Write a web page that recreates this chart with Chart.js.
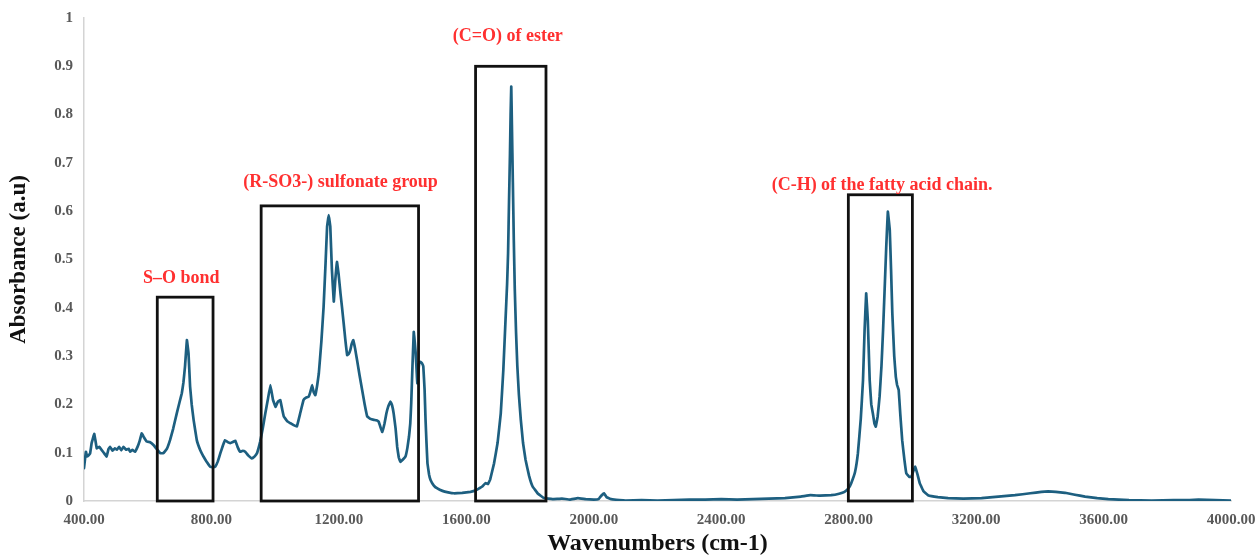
<!DOCTYPE html>
<html>
<head>
<meta charset="utf-8">
<title>FTIR spectrum</title>
<script src="https://cdn.jsdelivr.net/npm/chart.js@4.4.1/dist/chart.umd.min.js"></script>
<style>
  html, body { margin: 0; padding: 0; background: #fff; }
  #wrap { width: 1258px; height: 556px; position: relative; }
</style>
</head>
<body>
<div id="wrap"><canvas id="ftir"></canvas></div>
<script>
// spectrum
const wavenumbers = [
  400, 406, 410, 419, 424, 432, 436, 440, 448, 455, 462, 471, 477, 482, 490, 497, 503, 510, 517, 524,
  532, 540, 545, 552, 560, 568, 575, 581, 588, 597, 606, 618, 628, 639, 649, 660, 670, 680, 691, 700,
  707, 712, 717, 723, 728, 733, 738, 744, 754, 765, 775, 786, 796, 805, 812, 820, 828, 836, 843, 851,
  859, 867, 875, 882, 890, 898, 906, 916, 927, 935, 943, 948, 953, 961, 969, 977, 985, 993, 1001, 1008,
  1016, 1022, 1027, 1038, 1048, 1058, 1068, 1078, 1089, 1097, 1105, 1110, 1116, 1121, 1126, 1132, 1137, 1145, 1152, 1158,
  1163, 1168, 1173, 1178, 1184, 1189, 1194, 1199, 1205, 1210, 1215, 1220, 1226, 1231, 1236, 1240, 1245, 1251, 1257, 1265,
  1273, 1281, 1289, 1299, 1310, 1318, 1325, 1331, 1336, 1343, 1349, 1355, 1362, 1367, 1372, 1378, 1383, 1388, 1393, 1401,
  1409, 1415, 1420, 1424, 1427, 1431, 1435, 1438, 1441, 1444, 1446, 1449, 1452, 1456, 1461, 1465, 1469, 1472, 1475, 1478,
  1483, 1488, 1498, 1509, 1525, 1543, 1561, 1587, 1613, 1630, 1640, 1650, 1660, 1668, 1675, 1687, 1698, 1708, 1716, 1723,
  1728, 1731, 1734, 1737, 1739, 1741, 1743, 1746, 1749, 1752, 1756, 1760, 1765, 1771, 1778, 1786, 1797, 1808, 1825, 1844,
  1870, 1900, 1925, 1950, 1975, 2000, 2015, 2025, 2032, 2040, 2055, 2080, 2100, 2150, 2200, 2250, 2300, 2350, 2400, 2450,
  2500, 2550, 2600, 2650, 2680, 2710, 2745, 2770, 2787, 2800, 2808, 2820, 2829, 2838, 2845, 2850, 2855, 2860, 2866, 2871,
  2876, 2881, 2885, 2891, 2897, 2903, 2908, 2913, 2918, 2923, 2929, 2933, 2937, 2943, 2948, 2952, 2957, 2962, 2968, 2975,
  2981, 2990, 2997, 3003, 3009, 3016, 3023, 3035, 3049, 3080, 3112, 3160, 3217, 3270, 3322, 3370, 3405, 3426, 3450, 3479,
  3510, 3542, 3580, 3615, 3680, 3751, 3820, 3870, 3898, 3950, 4000
];
const absorbance = [
  0.068, 0.102, 0.092, 0.098, 0.12, 0.139, 0.125, 0.109, 0.112, 0.106, 0.1, 0.092, 0.108, 0.112, 0.104, 0.109, 0.106, 0.112, 0.105, 0.112,
  0.106, 0.108, 0.102, 0.106, 0.102, 0.112, 0.125, 0.14, 0.132, 0.123, 0.122, 0.116, 0.108, 0.099, 0.099, 0.108, 0.126, 0.15, 0.181, 0.205,
  0.223, 0.245, 0.278, 0.333, 0.306, 0.237, 0.2, 0.168, 0.126, 0.105, 0.092, 0.08, 0.071, 0.07, 0.071, 0.082, 0.099, 0.115, 0.126, 0.122,
  0.12, 0.122, 0.125, 0.112, 0.102, 0.104, 0.102, 0.094, 0.088, 0.092, 0.099, 0.11, 0.123, 0.15, 0.181, 0.21, 0.24, 0.21, 0.195, 0.205,
  0.209, 0.19, 0.175, 0.165, 0.161, 0.157, 0.154, 0.18, 0.209, 0.214, 0.216, 0.225, 0.24, 0.225, 0.219, 0.24, 0.264, 0.33, 0.402, 0.49,
  0.568, 0.592, 0.568, 0.48, 0.413, 0.46, 0.495, 0.47, 0.43, 0.4, 0.368, 0.335, 0.302, 0.305, 0.313, 0.325, 0.333, 0.315, 0.292, 0.26,
  0.23, 0.2, 0.175, 0.17, 0.168, 0.167, 0.164, 0.152, 0.143, 0.16, 0.181, 0.196, 0.206, 0.198, 0.181, 0.15, 0.112, 0.09, 0.081, 0.086,
  0.092, 0.11, 0.133, 0.16, 0.202, 0.28, 0.35, 0.33, 0.306, 0.27, 0.244, 0.265, 0.285, 0.288, 0.285, 0.278, 0.23, 0.168, 0.12, 0.078,
  0.055, 0.043, 0.032, 0.026, 0.021, 0.018, 0.016, 0.017, 0.019, 0.022, 0.026, 0.03, 0.037, 0.035, 0.045, 0.078, 0.12, 0.181, 0.27, 0.375,
  0.45, 0.513, 0.62, 0.72, 0.8, 0.858, 0.78, 0.66, 0.54, 0.44, 0.35, 0.28, 0.22, 0.168, 0.12, 0.085, 0.052, 0.03, 0.015, 0.006,
  0.004, 0.005, 0.003, 0.006, 0.004, 0.003, 0.004, 0.012, 0.016, 0.008, 0.004, 0.002, 0.001, 0.002, 0.001, 0.002, 0.003, 0.003, 0.004, 0.003,
  0.004, 0.005, 0.006, 0.009, 0.012, 0.011, 0.012, 0.015, 0.019, 0.027, 0.037, 0.06, 0.099, 0.17, 0.25, 0.354, 0.43, 0.375, 0.25, 0.2,
  0.181, 0.16, 0.154, 0.175, 0.216, 0.28, 0.354, 0.44, 0.527, 0.599, 0.561, 0.48, 0.389, 0.3, 0.257, 0.24, 0.23, 0.18, 0.126, 0.085,
  0.057, 0.05, 0.05, 0.062, 0.071, 0.055, 0.037, 0.02, 0.012, 0.008, 0.006, 0.005, 0.006, 0.009, 0.012, 0.016, 0.019, 0.02, 0.019, 0.017,
  0.013, 0.009, 0.006, 0.004, 0.002, 0.001, 0.002, 0.002, 0.003, 0.002, 0.001
];

// highlighted bands (wavenumber range and box height)
const boxStart = [630, 956, 1629, 2799];
const boxEnd = [805, 1450, 1850, 3000];
const boxTop = [0.422, 0.611, 0.90, 0.634];

// band labels
const labelText = ['S\u2013O bond', '(R-SO3-) sulfonate group', '(C=O) of ester', '(C-H) of the fatty acid chain.'];
const labelX = [705, 1205, 1730, 2905];
const labelY = [0.462, 0.66, 0.963, 0.654];

const serif = '"Liberation Serif", "Times New Roman", serif';

const bandPlugin = {
  id: 'bands',
  afterDatasetsDraw(chart) {
    const {ctx, scales: {x, y}} = chart;
    ctx.save();
    ctx.strokeStyle = '#111';
    ctx.lineWidth = 2.8;
    boxStart.forEach((s, i) => {
      const x0 = x.getPixelForValue(s);
      const x1 = x.getPixelForValue(boxEnd[i]);
      const y0 = y.getPixelForValue(boxTop[i]);
      const y1 = y.getPixelForValue(0);
      ctx.strokeRect(x0, y0, x1 - x0, y1 - y0);
    });
    ctx.fillStyle = '#ff3030';
    ctx.font = 'bold 18px ' + serif;
    ctx.textAlign = 'center';
    ctx.textBaseline = 'middle';
    labelText.forEach((t, i) => {
      ctx.fillText(t, x.getPixelForValue(labelX[i]), y.getPixelForValue(labelY[i]));
    });
    ctx.restore();
  }
};

new Chart(document.getElementById('ftir'), {
  type: 'line',
  data: {
    datasets: [{
      label: 'Absorbance',
      data: wavenumbers.map((w, i) => ({x: w, y: absorbance[i]})),
      borderColor: '#1d5f80',
      borderWidth: 2.7,
      borderJoinStyle: 'round',
      borderCapStyle: 'round',
      pointRadius: 0,
      // small tension keeps Chart.js off its pixel-merging fast path
      tension: 0.05,
      fill: false
    }]
  },
  options: {
    responsive: true,
    maintainAspectRatio: false,
    animation: false,
    layout: { padding: { top: 18, right: 27, bottom: 0, left: 0 } },
    plugins: {
      legend: { display: false },
      tooltip: { enabled: false }
    },
    scales: {
      x: {
        type: 'linear',
        min: 400,
        max: 4000,
        grid: { display: false, drawTicks: false },
        border: { display: true, color: '#d4d4d4', width: 1.5 },
        ticks: {
          stepSize: 400,
          padding: 10,
          color: '#595959',
          font: { family: serif, size: 15, weight: 'bold' },
          callback: v => v.toFixed(2)
        },
        title: {
          display: true,
          text: 'Wavenumbers (cm-1)',
          color: '#111',
          font: { family: serif, size: 24, weight: 'bold', lineHeight: 1 },
          padding: { top: 0, bottom: 0 }
        },
        afterFit: s => { s.height = 55; s.paddingRight = 0; s.paddingLeft = 0; }
      },
      y: {
        min: 0,
        max: 1,
        grid: { display: false, drawTicks: false },
        border: { display: true, color: '#d4d4d4', width: 1.5 },
        ticks: {
          stepSize: 0.1,
          padding: 11,
          color: '#595959',
          font: { family: serif, size: 15, weight: 'bold' },
          callback: v => String(Number(v.toFixed(1)))
        },
        title: {
          display: true,
          text: 'Absorbance (a.u)',
          color: '#111',
          font: { family: serif, size: 23, weight: 'bold', lineHeight: 1 },
          padding: { top: 8, bottom: 0 }
        },
        afterFit: s => { s.width = 84; s.paddingTop = 0; s.paddingBottom = 0; }
      }
    }
  },
  plugins: [bandPlugin]
});
</script>
</body>
</html>
